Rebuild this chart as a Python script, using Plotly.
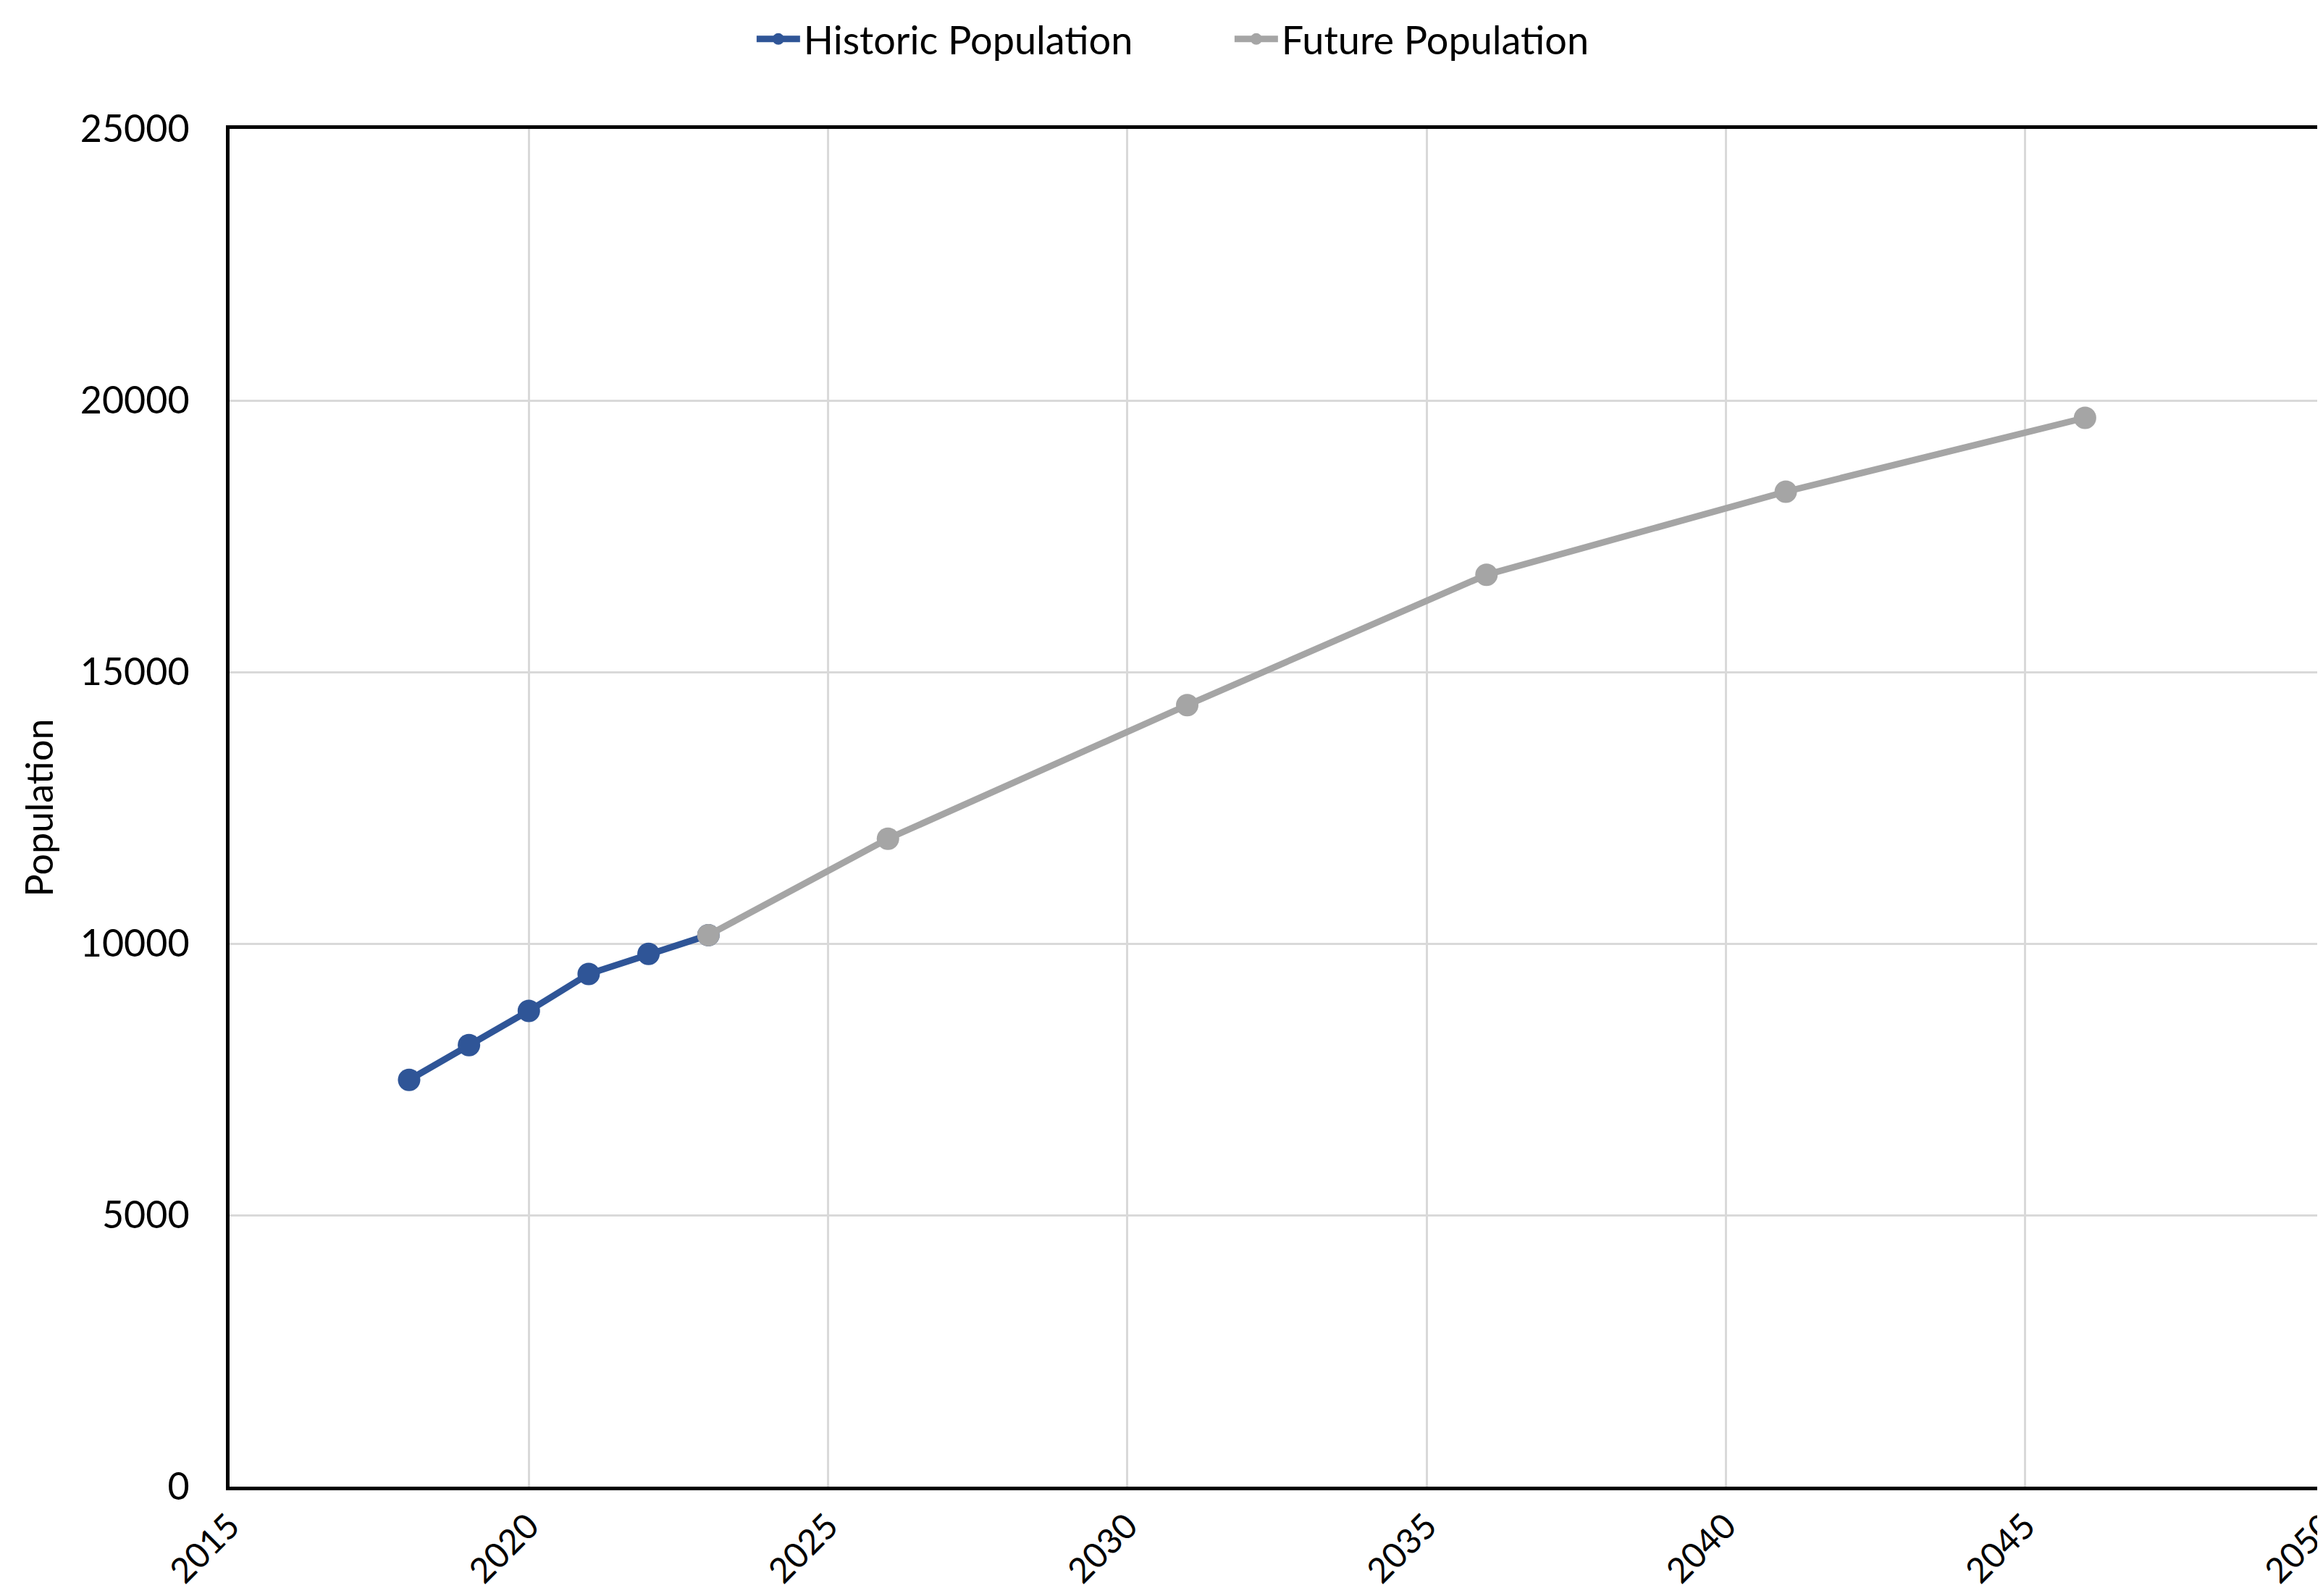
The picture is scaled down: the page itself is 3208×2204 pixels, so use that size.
import plotly.graph_objects as go

hist_years = [2018, 2019, 2020, 2021, 2022, 2023]
hist_pop = [7490, 8130, 8760, 9440, 9810, 10155]
fut_years = [2023, 2026, 2031, 2036, 2041, 2046]
fut_pop = [10155, 11930, 14390, 16790, 18320, 19680]

x_ticks = [2015, 2020, 2025, 2030, 2035, 2040, 2045, 2050]
y_ticks = [0, 5000, 10000, 15000, 20000, 25000]

FONT = "Lato"

fig = go.Figure()
fig.add_trace(go.Scatter(
    x=hist_years, y=hist_pop, mode="lines+markers", name="Historic Population",
    line=dict(color="#2F5597", width=9), marker=dict(color="#2F5597", size=31),
))
fig.add_trace(go.Scatter(
    x=fut_years, y=fut_pop, mode="lines+markers", name="Future Population",
    line=dict(color="#A5A5A5", width=9), marker=dict(color="#A5A5A5", size=31),
))

fig.update_layout(
    width=3208, height=2204,
    margin=dict(l=309, r=6, t=170, b=159, autoexpand=False),
    paper_bgcolor="white", plot_bgcolor="white",
    font=dict(family=FONT, size=50, color="black"),
    legend=dict(orientation="h", x=0.478, xanchor="center", y=1.066, yanchor="middle",
                font=dict(size=54), itemwidth=60, entrywidth=585, entrywidthmode="pixels"),
    showlegend=True,
)
fig.update_xaxes(
    range=[2015, 2050], tickvals=x_ticks, ticktext=[str(v) for v in x_ticks],
    tickangle=-45, showgrid=True, gridcolor="#D9D9D9", gridwidth=3,
    showline=True, linecolor="black", linewidth=5, mirror=True,
    ticks="", zeroline=False, tickfont=dict(size=48),
    ticklabeloverflow="allow", ticklabelstandoff=2,
)
fig.update_yaxes(
    range=[0, 25000], tickvals=y_ticks, ticktext=[str(v) for v in y_ticks],
    showgrid=True, gridcolor="#D9D9D9", gridwidth=3,
    showline=True, linecolor="black", linewidth=5, mirror=True,
    ticks="", zeroline=False, tickfont=dict(size=52), ticklabelstandoff=40,
    title=dict(text="Population", font=dict(size=52), standoff=22),
)

fig.write_html("out.html")
